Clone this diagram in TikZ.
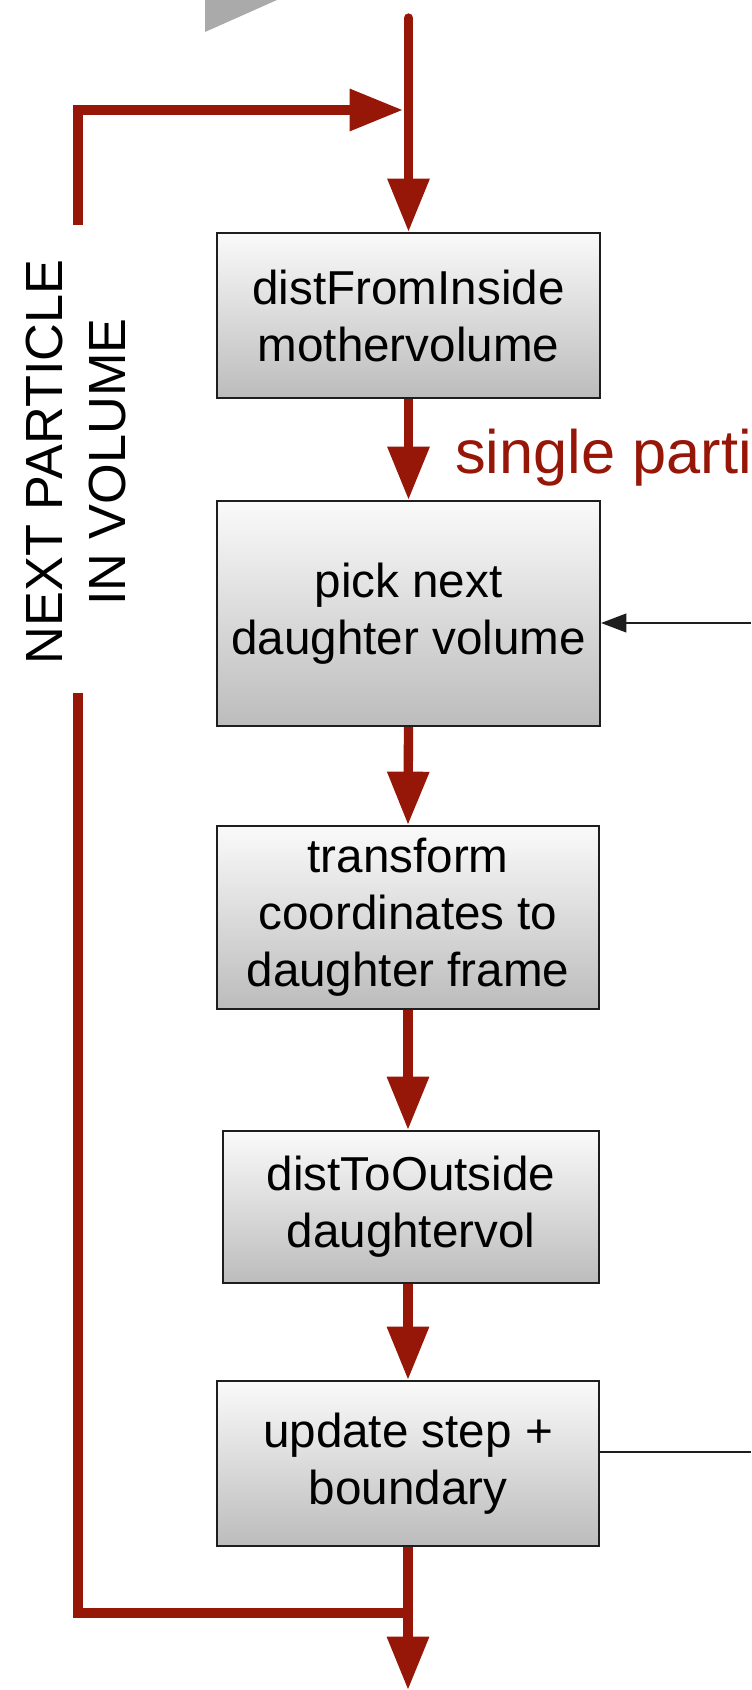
\documentclass[tikz,border=0pt]{standalone}
\usepackage{fontspec}
\setmainfont{Liberation Sans}
\usetikzlibrary{arrows.meta}
\definecolor{flowred}{RGB}{150,22,8}
\definecolor{boxline}{RGB}{30,30,30}
\definecolor{trigray}{RGB}{170,170,170}
\definecolor{boxtop}{RGB}{250,250,250}
\definecolor{boxbot}{RGB}{188,188,188}
\begin{document}
\begin{tikzpicture}[x=0.75pt,y=-0.75pt,
  flow/.style={draw=flowred, line width=7pt, -{Triangle[length=40pt,width=30pt]}},
  loopline/.style={draw=flowred, line width=7pt},
  feed/.style={draw=boxline, line width=1.5pt},
  stepbox/.style={draw=boxline, line width=1.5pt, top color=boxtop, bottom color=boxbot,
    inner sep=0pt, align=center, font=\fontsize{35.7}{42.75}\selectfont}]
\useasboundingbox (0,0) rectangle (751,1690);

% gray corner triangle
\fill[trigray] (205,0) -- (205,32) -- (277,0) -- cycle;

% boxes
\node[stepbox, minimum width=287.25pt, minimum height=123.75pt] (b1) at (408.5,315.5) {distFromInside\\mothervolume};
\node[stepbox, minimum width=287.25pt, minimum height=168.75pt] (b2) at (408.5,613.5) {pick next\\daughter volume};
\node[stepbox, minimum width=286.5pt, minimum height=137.25pt] (b3) at (408,917.5) {transform\\coordinates to\\daughter frame};
\node[stepbox, minimum width=282pt, minimum height=114pt] (b4) at (411,1207) {distToOutside\\daughtervol};
\node[stepbox, minimum width=286.5pt, minimum height=123.75pt] (b5) at (408,1463.5) {update step +\\boundary};

% main flow
\coordinate (top) at (408.5,18);
\coordinate (bot) at (408,1690);
\draw[flow, line cap=round] (top) -- (b1.north);
\draw[flow] (b1.south) -- (b2.north);
\draw[flow] (b2.south) -- (b3.north);
\draw[flow] (b3.south) -- (b3.south |- b4.north);
\draw[flow] (b5.north |- b4.south) -- (b5.north);
\draw[flow] (b5.south) -- (bot);

% loop back
\coordinate (lt) at (78,225);
\coordinate (jt) at (403,110);
\coordinate (lb) at (78,693);
\coordinate (jb) at (408,1613);
\draw[flow] (lt) |- (jt);
\draw[loopline] (lb) |- (jb);

% side label
\node[rotate=90, align=center, inner sep=0pt, font=\fontsize{39.2}{47.25}\selectfont] (side) at (76,462) {NEXT PARTICLE\\IN VOLUME};

% red label
\node[anchor=base west, inner sep=0pt, text=flowred, font=\fontsize{46}{50}\selectfont] (lbl) at (455,473) {single parti};

% right-hand connectors
\coordinate (r1) at (751,623);
\coordinate (r2) at (751,1452);
\draw[feed, -{Triangle[length=19pt,width=14pt]}] (r1) -- (b2.east |- r1);
\draw[feed] (b5.east |- r2) -- (r2);
\end{tikzpicture}
\end{document}
